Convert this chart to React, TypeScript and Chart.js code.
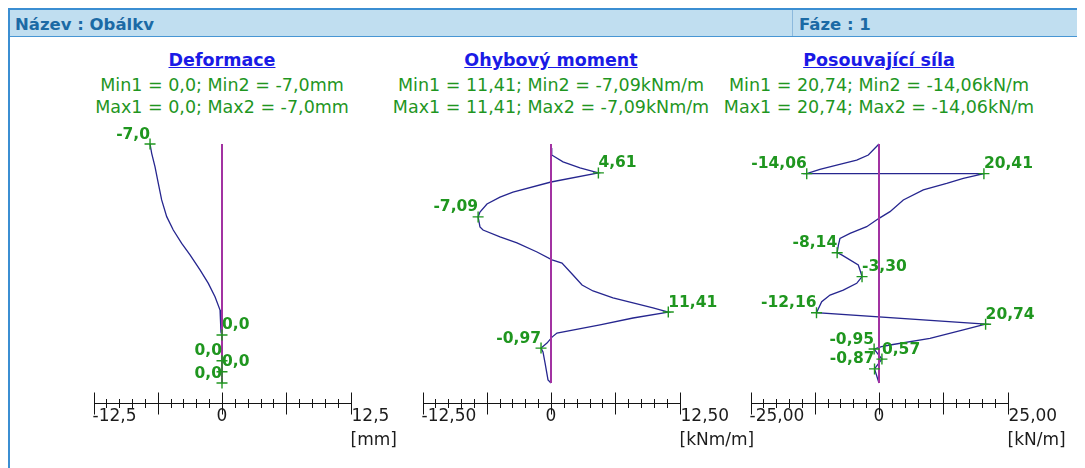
import React, { useEffect, useRef } from "react";
import { Chart, registerables } from "chart.js";

Chart.register(...registerables);

const FONT = '"DejaVu Sans", Verdana, sans-serif';
const GREEN = "#1f961f";
const NAVY = "#26268f";
const PURPLE = "#a232a2";
const TITLE_BLUE = "#1a1ae6";

// ---------- Deformace [mm] ----------
// depth along the wall [m] (0 = top) and horizontal deformation
const deformDepth = [0, 0.39, 0.95, 1.64, 2.34, 3.04, 3.6, 4.16, 4.64, 5.27, 5.83, 6.39, 6.95, 7.36, 7.87, 7.99, 10];
const deformValue = [-7.0, -6.84, -6.52, -6.2, -5.87, -5.38, -4.74, -3.92, -3.11, -2.14, -1.33, -0.68, -0.19, -0.1, -0.1, 0, 0];
const deformMarkDepth = [0, 7.99, 9.07, 9.53, 10];
const deformMarkValue = [-7.0, 0.0, 0.0, 0.0, 0.0];
const deformMarkSide = ["left", "right", "left", "right", "left"];
const deformSummary = [0.0, -7.0, 0.0, -7.0];

// ---------- Ohybový moment [kNm/m] ----------
const momentDepth = [
  0.17, 0.46, 0.75, 1.0, 1.21, 1.59, 2.01, 2.22, 2.51, 2.85, 3.05, 3.47, 3.6, 3.89, 4.14, 4.52, 4.85, 4.98,
  5.48, 5.9, 6.15, 6.44, 6.65, 6.86, 7.03, 7.28, 7.57, 7.91, 8.08, 8.33, 8.54, 8.7, 9.16, 9.87, 10,
];
const momentValue = [
  0.07, 0.07, 1.17, 2.82, 4.61, 0, -3.7, -4.96, -6.23, -6.91, -7.09, -6.91, -6.61, -4.96, -3.31, -1.36, 0.1, 1.07,
  2.14, 3.02, 4.09, 6.03, 7.98, 9.92, 11.41, 7.98, 4.77, 0.58, 0.1, -0.39, -0.97, -0.78, -0.58, -0.29, 0,
];
const momentMarkDepth = [1.21, 3.05, 7.03, 8.54];
const momentMarkValue = [4.61, -7.09, 11.41, -0.97];
const momentMarkSide = ["right", "left", "right", "left"];
const momentSummary = [11.41, -7.09, 11.41, -7.09];

// ---------- Posouvající síla [kN/m] ----------
const shearDepth = [
  0, 0.46, 0.67, 0.88, 1.06, 1.24, 1.24, 1.44, 1.65, 1.92, 2.34, 2.83, 3.11, 3.46, 3.74, 3.95, 4.23, 4.55,
  4.64, 5.06, 5.27, 5.55, 5.83, 6.11, 6.32, 6.6, 7.06, 7.54, 7.78, 8.13, 8.41, 8.48, 8.58, 9.0, 9.41, 10,
];
const shearValue = [
  0, -2.08, -4.34, -8.23, -11.5, -14.06, 20.41, 16.4, 13.17, 8.62, 4.73, 2.14, 0, -2.4, -5.64, -7.59, -7.9, -8.14,
  -7.26, -4.03, -3.7, -3.3, -4.34, -6.95, -9.53, -11.15, -12.16, 20.74, 16.4, 9.92, 2.14, 0.5, -0.95, 0.57, -0.87, 0,
];
const shearMarkDepth = [1.24, 1.24, 4.55, 5.55, 7.06, 7.54, 8.58, 9.0, 9.41];
const shearMarkValue = [-14.06, 20.41, -8.14, -3.3, -12.16, 20.74, -0.95, 0.57, -0.87];
const shearMarkSide = ["left", "right", "left", "right", "left", "right", "left", "right", "left"];
const shearSummary = [20.74, -14.06, 20.74, -14.06];

// wall length [m] and ruler limits of each diagram
const wallLength = 10;
const axisLimits = [12.5, 12.5, 25];

// ---------- layout (page pixels) ----------
const HALF = 128.5; // half width of a ruler
const CANVAS_W = 400;
const CANVAS_H = 340;
const CANVAS_PAGE_TOP = 120;
const ORIGIN_IN_CANVAS = 175;
const PLOT_TOP = 144;
const PLOT_BOTTOM = 383;

function fmt(v: number, dec: number): string {
  const r = Number(v.toFixed(dec));
  const s = (Object.is(r, -0) || r === 0 ? 0 : r).toFixed(dec);
  return s.replace(".", ",");
}

const rulerPlugin = {
  id: "ruler",
  afterDraw(chart: any, _args: any, opts: any) {
    const { ctx, chartArea } = chart;
    const xs = chart.scales.x;
    const lim: number = opts.limit;
    const y0 = Math.round(chartArea.bottom + 20) + 0.5;
    const px = (v: number) => Math.round(xs.getPixelForValue(v)) + 0.5;
    ctx.save();
    ctx.strokeStyle = "#141414";
    ctx.lineWidth = 1;
    ctx.beginPath();
    ctx.moveTo(px(-lim), y0);
    ctx.lineTo(px(lim), y0);
    for (let i = -10; i <= 10; i++) {
      const x = px((lim * i) / 10);
      const h = i % 5 === 0 ? 11 : 4.5;
      ctx.moveTo(x, y0 - h);
      ctx.lineTo(x, y0 + h);
    }
    ctx.stroke();

    ctx.fillStyle = "#1c1c1c";
    ctx.font = `17px ${FONT}`;
    ctx.textBaseline = "alphabetic";
    const yl = chartArea.bottom + 38;
    ctx.textAlign = "left";
    ctx.fillText(fmt(-lim, opts.decimals), xs.getPixelForValue(-lim) - 1, yl);
    ctx.fillText(fmt(lim, opts.decimals), xs.getPixelForValue(lim) + 1, yl);
    ctx.textAlign = "center";
    ctx.fillText("0", xs.getPixelForValue(0), yl);
    ctx.textAlign = "left";
    ctx.fillText(opts.unit, xs.getPixelForValue(lim), chartArea.bottom + 62);
    ctx.restore();
  },
};

const valueLabelPlugin = {
  id: "valueLabels",
  afterDatasetsDraw(chart: any, _args: any, opts: any) {
    const { ctx } = chart;
    const meta = chart.getDatasetMeta(0);
    const ds = chart.data.datasets[0];
    ctx.save();
    ctx.font = `bold 15.5px ${FONT}`;
    ctx.fillStyle = GREEN;
    ctx.textBaseline = "alphabetic";
    meta.data.forEach((pt: any, i: number) => {
      const raw = ds.data[i] as { x: number; y: number };
      ctx.textAlign = opts.sides[i] === "right" ? "left" : "right";
      ctx.fillText(fmt(raw.x, opts.decimals), pt.x, pt.y - 5.5);
    });
    ctx.restore();
  },
};

type PanelProps = {
  origin: number;
  title: string;
  unit: string;
  decimals: number;
  limit: number;
  depth: number[];
  value: number[];
  markDepth: number[];
  markValue: number[];
  markSide: string[];
  summary: number[];
};

function Panel(p: PanelProps) {
  const ref = useRef<HTMLCanvasElement | null>(null);

  useEffect(() => {
    if (!ref.current) return;
    const curve = p.depth.map((d, i) => ({ x: p.value[i], y: d }));
    const marks = p.markDepth.map((d, i) => ({ x: p.markValue[i], y: d }));
    const chart = new Chart(ref.current, {
      type: "scatter",
      data: {
        datasets: [
          {
            data: marks,
            order: 0,
            showLine: false,
            pointStyle: "cross",
            pointRadius: 5.5,
            pointHoverRadius: 5.5,
            pointBorderColor: GREEN,
            pointBackgroundColor: GREEN,
            pointBorderWidth: 1.4,
            clip: false,
          },
          {
            data: [
              { x: 0, y: 0 },
              { x: 0, y: wallLength },
            ],
            order: 1,
            showLine: true,
            borderColor: PURPLE,
            borderWidth: 2,
            pointRadius: 0,
            clip: false,
          },
          {
            data: curve,
            order: 2,
            showLine: true,
            borderColor: NAVY,
            borderWidth: 1.3,
            pointRadius: 0,
            tension: 0,
            clip: false,
          },
        ],
      } as any,
      options: {
        animation: false,
        responsive: false,
        maintainAspectRatio: false,
        devicePixelRatio: 1,
        events: [],
        layout: {
          padding: {
            left: ORIGIN_IN_CANVAS - HALF,
            right: CANVAS_W - ORIGIN_IN_CANVAS - HALF,
            top: PLOT_TOP - CANVAS_PAGE_TOP,
            bottom: CANVAS_PAGE_TOP + CANVAS_H - PLOT_BOTTOM,
          },
        },
        scales: {
          x: { type: "linear", min: -p.limit, max: p.limit, display: false },
          y: { type: "linear", min: 0, max: wallLength, reverse: true, display: false },
        },
        plugins: {
          legend: { display: false },
          tooltip: { enabled: false },
          ruler: { limit: p.limit, decimals: p.decimals, unit: p.unit },
          valueLabels: { sides: p.markSide, decimals: p.decimals },
        } as any,
      },
      plugins: [rulerPlugin, valueLabelPlugin],
    });
    return () => chart.destroy();
  }, []);

  const left = p.origin - 8;
  const s = p.summary;
  const u = p.unit.replace(/[\[\]]/g, "");
  const textBox: React.CSSProperties = {
    position: "absolute",
    left: left - 200,
    width: 400,
    textAlign: "center",
    lineHeight: "22px",
    whiteSpace: "nowrap",
  };
  return (
    <>
      <div
        style={{
          ...textBox,
          top: 41,
          fontSize: 17.5,
          fontWeight: "bold",
          color: TITLE_BLUE,
          textDecoration: "underline",
        }}
      >
        {p.title}
      </div>
      <div style={{ ...textBox, top: 66, fontSize: 17.5, color: GREEN }}>
        {`Min1 = ${fmt(s[0], p.decimals)}; Min2 = ${fmt(s[1], p.decimals)}${u}`}
      </div>
      <div style={{ ...textBox, top: 88, fontSize: 17.5, color: GREEN }}>
        {`Max1 = ${fmt(s[2], p.decimals)}; Max2 = ${fmt(s[3], p.decimals)}${u}`}
      </div>
      <canvas
        ref={ref}
        width={CANVAS_W}
        height={CANVAS_H}
        style={{
          position: "absolute",
          left: left - ORIGIN_IN_CANVAS,
          top: CANVAS_PAGE_TOP - 8,
          width: CANVAS_W,
          height: CANVAS_H,
        }}
      />
    </>
  );
}

export default function App() {
  return (
    <div
      style={{
        position: "relative",
        width: 1077,
        height: 460,
        overflow: "hidden",
        fontFamily: FONT,
        background: "#ffffff",
      }}
    >
      <div
        style={{
          position: "absolute",
          left: 0,
          top: 0,
          width: 1200,
          height: 600,
          borderLeft: "2px solid #3b8ed2",
          borderTop: "2px solid #3b8ed2",
          boxSizing: "border-box",
        }}
      />
      <div
        style={{
          position: "absolute",
          left: 2,
          top: 2,
          width: 1200,
          height: 26,
          background: "#c0def0",
          borderBottom: "1px solid #4796d4",
        }}
      />
      <div style={{ position: "absolute", left: 784, top: 2, width: 1, height: 26, background: "#8cb9dd" }} />
      <div
        style={{
          position: "absolute",
          left: 7,
          top: 6,
          lineHeight: "22px",
          fontSize: 16.5,
          fontWeight: "bold",
          color: "#1b6aa5",
          whiteSpace: "nowrap",
        }}
      >
        Název : Obálkv
      </div>
      <div
        style={{
          position: "absolute",
          left: 791,
          top: 6,
          lineHeight: "22px",
          fontSize: 16.5,
          fontWeight: "bold",
          color: "#1b6aa5",
          whiteSpace: "nowrap",
        }}
      >
        Fáze : 1
      </div>
      <Panel
        origin={222}
        title="Deformace"
        unit="[mm]"
        decimals={1}
        limit={axisLimits[0]}
        depth={deformDepth}
        value={deformValue}
        markDepth={deformMarkDepth}
        markValue={deformMarkValue}
        markSide={deformMarkSide}
        summary={deformSummary}
      />
      <Panel
        origin={551}
        title="Ohybový moment"
        unit="[kNm/m]"
        decimals={2}
        limit={axisLimits[1]}
        depth={momentDepth}
        value={momentValue}
        markDepth={momentMarkDepth}
        markValue={momentMarkValue}
        markSide={momentMarkSide}
        summary={momentSummary}
      />
      <Panel
        origin={879}
        title="Posouvající síla"
        unit="[kN/m]"
        decimals={2}
        limit={axisLimits[2]}
        depth={shearDepth}
        value={shearValue}
        markDepth={shearMarkDepth}
        markValue={shearMarkValue}
        markSide={shearMarkSide}
        summary={shearSummary}
      />
    </div>
  );
}
